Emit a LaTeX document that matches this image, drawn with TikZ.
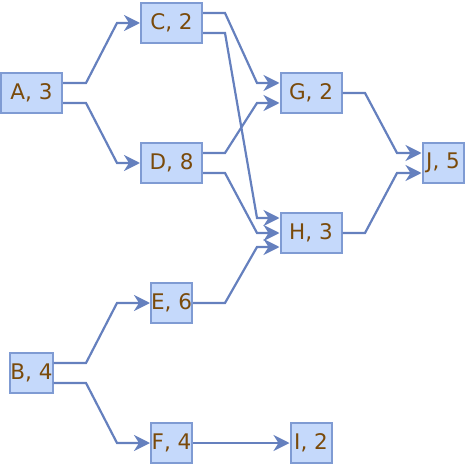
\documentclass[tikz,border=0pt]{standalone}
\usepackage{fontspec}
\setmainfont{DejaVu Sans}
\usetikzlibrary{arrows.meta,calc}
\definecolor{boxfill}{HTML}{C5D9FB}
\definecolor{boxline}{HTML}{7F9BD3}
\definecolor{txt}{HTML}{7A4A0A}
\definecolor{edgec}{HTML}{6580BE}
\tikzset{
  task/.style={draw=boxline, fill=boxfill, line width=2pt, inner sep=0pt,
    minimum height=40pt, text=txt, font=\fontsize{21.5}{26}\selectfont, anchor=center},
  widebox/.style={task, minimum width=61pt},
  narrowbox/.style={task, minimum width=41pt},
  edge/.style={draw=edgec, line width=2.2pt, -{Stealth[length=16pt,width=16pt,inset=5pt]}}
}
\begin{document}
\begin{tikzpicture}[x=1pt,y=-1pt]
\useasboundingbox (0,0) rectangle (468,465);
\node[widebox] (A) at (31.5,93) {A, 3};
\node[narrowbox] (B) at (31.5,373) {B, 4};
\node[widebox] (C) at (171.5,23) {C, 2};
\node[widebox] (D) at (171.5,163) {D, 8};
\node[narrowbox] (E) at (171.5,303) {E, 6};
\node[narrowbox] (F) at (171.5,443) {F, 4};
\node[widebox] (G) at (311,93) {G, 2};
\node[widebox] (H) at (311,233) {H, 3};
\node[narrowbox] (I) at (311,443) {I, 2};
\node[narrowbox] (J) at (443,163) {J, 5};
\coordinate (g1a) at (86,0);
\coordinate (g1b) at (117,0);
\coordinate (g2a) at (225,0);
\coordinate (g2b) at (257,0);
\coordinate (g3a) at (365,0);
\coordinate (g3b) at (397,0);
% A
\draw[edge] ($(A.east)+(0,-10)$) coordinate (s) -- (g1a |- s) -- (g1b |- C.west) -- (C.west);
\draw[edge] ($(A.east)+(0,10)$) coordinate (s) -- (g1a |- s) -- (g1b |- D.west) -- (D.west);
% B
\draw[edge] ($(B.east)+(0,-10)$) coordinate (s) -- (g1a |- s) -- (g1b |- E.west) -- (E.west);
\draw[edge] ($(B.east)+(0,10)$) coordinate (s) -- (g1a |- s) -- (g1b |- F.west) -- (F.west);
% C
\draw[edge] ($(C.east)+(0,-10)$) coordinate (s) -- (g2a |- s) -- (g2b |- {$(G.west)+(0,-10)$}) -- ($(G.west)+(0,-10)$);
\draw[edge] ($(C.east)+(0,10)$) coordinate (s) -- (g2a |- s) -- (g2b |- {$(H.west)+(0,-15)$}) -- ($(H.west)+(0,-15)$);
% D
\draw[edge] ($(D.east)+(0,-10)$) coordinate (s) -- (g2a |- s) -- (g2b |- {$(G.west)+(0,10)$}) -- ($(G.west)+(0,10)$);
\draw[edge] ($(D.east)+(0,10)$) coordinate (s) -- (g2a |- s) -- (g2b |- H.west) -- (H.west);
% E
\draw[edge] (E.east) -- (g2a |- E.east) -- (g2b |- {$(H.west)+(0,14)$}) -- ($(H.west)+(0,14)$);
% F
\draw[edge] (F.east) -- (I.west);
% G, H
\draw[edge] (G.east) -- (g3a |- G.east) -- (g3b |- {$(J.west)+(0,-10)$}) -- ($(J.west)+(0,-10)$);
\draw[edge] (H.east) -- (g3a |- H.east) -- (g3b |- {$(J.west)+(0,10)$}) -- ($(J.west)+(0,10)$);
\end{tikzpicture}
\end{document}
